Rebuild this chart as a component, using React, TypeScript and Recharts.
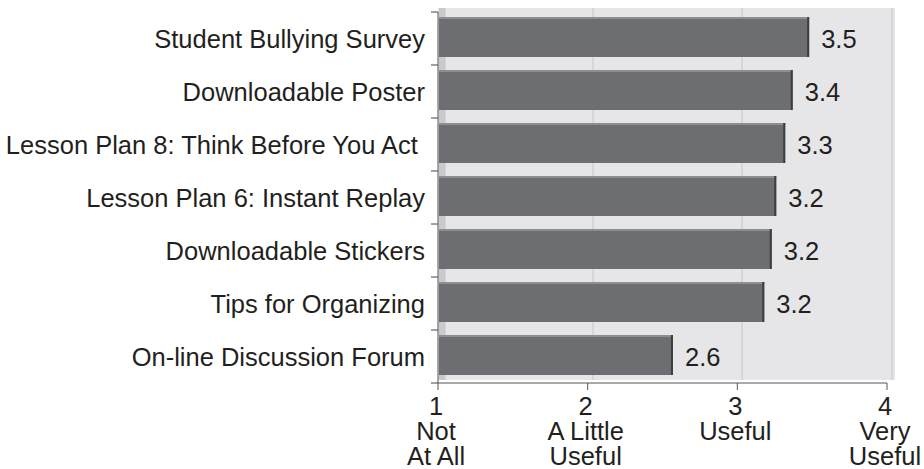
import { Bar, BarChart, CartesianGrid, LabelList, XAxis, YAxis } from "recharts";

const categories = [
  "Student Bullying Survey",
  "Downloadable Poster",
  "Lesson Plan 8: Think Before You Act ",
  "Lesson Plan 6: Instant Replay",
  "Downloadable Stickers",
  "Tips for Organizing",
  "On-line Discussion Forum",
];
// bar lengths as drawn, and the rounded means printed beside them
const ratings = [3.48, 3.37, 3.32, 3.26, 3.23, 3.18, 2.57];
const shownRatings = ["3.5", "3.4", "3.3", "3.2", "3.2", "3.2", "2.6"];
const xTicks = [1, 2, 3, 4];
const xTickLabels = [["1", "Not", "At All"], ["2", "A Little", "Useful"], ["3", "Useful"], ["4", "Very", "Useful"]];

const data = categories.map((name, i) => ({ name, value: ratings[i], shown: shownRatings[i] }));

const W = 924;
const H = 461;
const M = { top: 4, right: 37, bottom: 0, left: 8 };
const Y_W = 430;
const X_H = 86;
const plotLeft = M.left + Y_W;
const plotTop = M.top;
const plotW = W - plotLeft - M.right;
const plotH = H - plotTop - X_H - M.bottom;
const band = plotH / categories.length;
const unit = plotW / (xTicks.length - 1);
const FONT = "'Liberation Sans', Arial, Helvetica, sans-serif";
const FS = 25.5;
const INK = "#231f20";

// back wall of the pseudo-3D plot: a side strip, then grid lines shifted up/right
const wallX = plotLeft + 1;
const wallPoints = [wallX, wallX + 6, ...[1, 2, 3].map((k) => Math.round(plotLeft + k * unit + 5))];

function YTick(props: any) {
  const { x, y, payload, index } = props;
  const lx = x + 6;
  return (
    <g>
      <text x={x} y={y} dy="0.36em" textAnchor="end" fontSize={FS} fill={INK} fontFamily={FONT} style={{ whiteSpace: "pre" }}>
        {payload.value}
      </text>
      <line x1={lx} x2={lx + 7} y1={y - band / 2} y2={y - band / 2} stroke="#444" />
      {index === categories.length - 1 && (
        <line x1={lx} x2={lx + 7} y1={y + band / 2} y2={y + band / 2} stroke="#444" />
      )}
    </g>
  );
}

function XTick(props: any) {
  const { x, y, payload } = props;
  const lines = xTickLabels[xTicks.indexOf(payload.value)] || [String(payload.value)];
  return (
    <g>
      {lines.map((t, i) => (
        <text key={i} x={x - 2} y={y + 23 + i * 25} textAnchor="middle" fontSize={FS} fill={INK} fontFamily={FONT}>
          {t}
        </text>
      ))}
    </g>
  );
}

function BarShape(props: any) {
  const { x, y, width, height } = props;
  return (
    <g>
      <rect x={x + 1} y={y - 2} width={width - 1} height={height} fill="#6d6e71" />
      <rect x={x + 1} y={y - 2} width={width - 1} height={2} fill="#8d8e91" />
      <rect x={x + width - 2} y={y - 2} width={2} height={height} fill="#3d3e41" />
    </g>
  );
}

export default function App() {
  return (
    <div style={{ position: "absolute", left: 0, top: 8, width: W, height: H, fontFamily: FONT }}>
      <BarChart width={W} height={H} data={data} layout="vertical" margin={M} barSize={40}>
        <CartesianGrid
          horizontal={false}
          x={wallX}
          y={plotTop - 4}
          width={plotW + 7}
          height={plotH + 1}
          fill="#e6e6e8"
          fillOpacity={1}
          stroke="#c6c6c8"
          verticalPoints={wallPoints}
          verticalFill={["#cacacc", "#e6e6e8", "#e6e6e8", "#e6e6e8", "#e6e6e8"]}
        />
        <XAxis
          type="number"
          domain={[1, 4]}
          ticks={xTicks}
          height={X_H}
          tickSize={7}
          tickMargin={2}
          stroke="#555"
          tick={<XTick />}
        />
        <YAxis
          type="category"
          dataKey="name"
          width={Y_W}
          tickLine={false}
          tickSize={7}
          tickMargin={6}
          stroke="#555"
          tick={<YTick />}
          interval={0}
        />
        <Bar dataKey="value" isAnimationActive={false} shape={<BarShape />}>
          <LabelList dataKey="shown" position="right" offset={12} fontSize={FS} fill={INK} fontFamily={FONT} />
        </Bar>
      </BarChart>
    </div>
  );
}
